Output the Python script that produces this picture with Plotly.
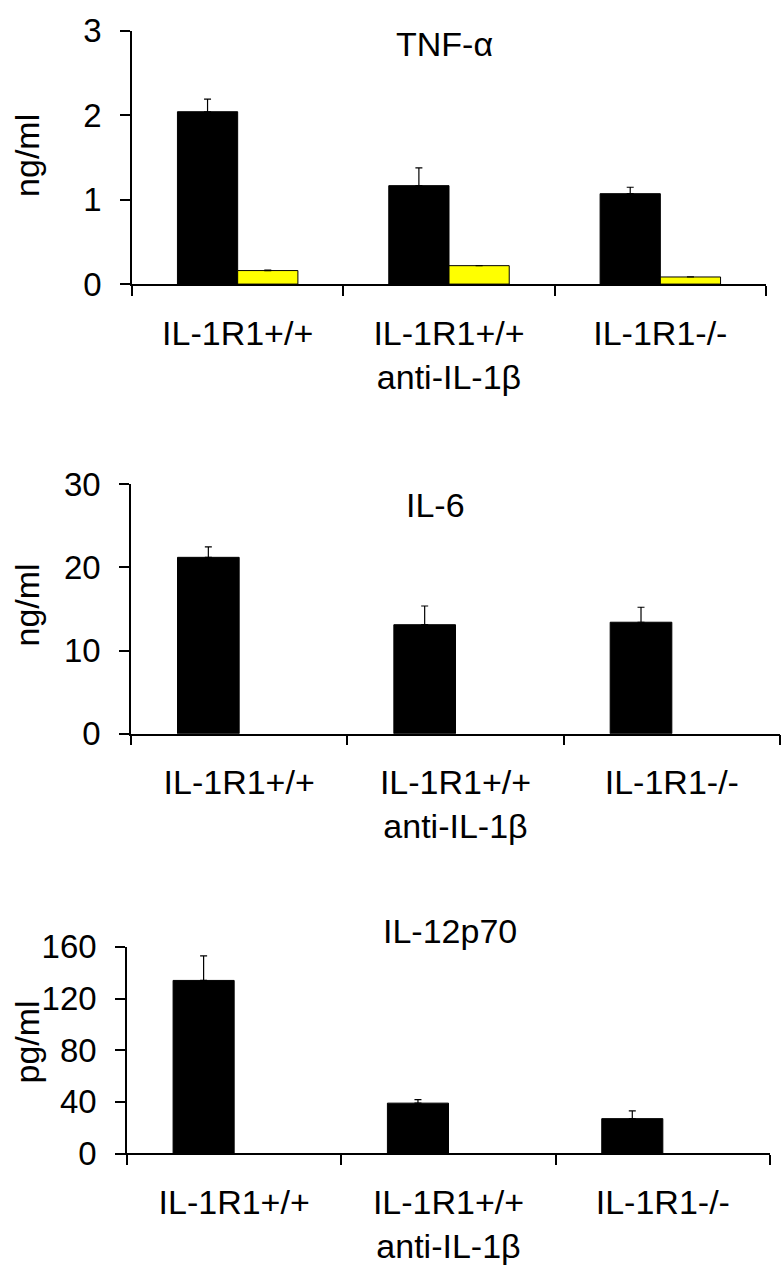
import plotly.graph_objects as go

categories = ["IL-1R1+/+", "IL-1R1+/+<br>anti-IL-1β", "IL-1R1-/-"]

tnf_black = [2.04, 1.165, 1.07]
tnf_black_err = [0.15, 0.21, 0.076]
tnf_yellow = [0.16, 0.218, 0.084]
tnf_yellow_err = [0.005, 0.002, 0.002]

il6_black = [21.2, 13.1, 13.4]
il6_black_err = [1.25, 2.25, 1.8]

il12_black = [134, 39, 27]
il12_black_err = [19, 2.7, 6]

titles = ["TNF-α", "IL-6", "IL-12p70"]
ytitles = ["ng/ml", "ng/ml", "pg/ml"]
yticks = [[0, 1, 2, 3], [0, 10, 20, 30], [0, 40, 80, 120, 160]]
yranges = [[0, 3], [0, 30], [0, 160]]

W, H = 783, 1280
FONT = "Liberation Sans, Arial, sans-serif"

# panel geometry in pixels: (x0, x1, ytop, ybottom)
panels = [(132, 766, 13, 274), (131, 780, 480, 737), (127, 770, 956.5, 1169.3)]

fig = go.Figure()

def err(arr):
    return dict(type="data", array=arr, arrayminus=[0] * len(arr), symmetric=False,
                color="black", thickness=1.2, width=3.5)

series = [
    [(tnf_black, tnf_black_err, "black"), (tnf_yellow, tnf_yellow_err, "#FFFF00")],
    [(il6_black, il6_black_err, "black")],
    [(il12_black, il12_black_err, "black")],
]

for i, sl in enumerate(series):
    xa = "x" if i == 0 else f"x{i+1}"
    ya = "y" if i == 0 else f"y{i+1}"
    for j, (vals, e, col) in enumerate(sl):
        fig.add_trace(go.Bar(
            x=categories, y=vals, xaxis=xa, yaxis=ya,
            marker=dict(color=col, line=dict(color="black", width=1)),
            width=0.285, offset=-0.285 if j == 0 else 0.0,
            error_y=err(e), showlegend=False,
        ))

annotations = []
for i, (x0, x1, yt, yb) in enumerate(panels):
    key = "" if i == 0 else str(i + 1)
    xd = [x0 / W, x1 / W]
    yd = [1 - yb / H, 1 - yt / H]
    fig.layout["xaxis" + key] = dict(
        domain=xd, anchor="y" + key, type="category", range=[-0.5, 2.5],
        showline=True, linecolor="black", linewidth=1.5,
        ticks="outside", tickson="boundaries", ticklen=10, tickwidth=1.5, tickcolor="black",
        ticklabelstandoff=18,
        tickfont=dict(family=FONT, size=34, color="black"), showgrid=False, zeroline=False,
        fixedrange=True,
    )
    fig.layout["yaxis" + key] = dict(
        domain=yd, anchor="x" + key, range=yranges[i], tickvals=yticks[i],
        showline=True, linecolor="black", linewidth=1.5,
        ticks="outside", ticklen=10, tickwidth=1.5, tickcolor="black",
        ticklabelstandoff=12,
        tickfont=dict(family=FONT, size=33, color="black"), showgrid=False, zeroline=False,
    )

title_pos = [(444, 27), (436, 502), (450, 940)]
for i, (tx, ty) in enumerate(title_pos):
    annotations.append(dict(text=titles[i], x=tx / W, y=1 - ty / H, xref="paper", yref="paper",
                            showarrow=False, xanchor="center", yanchor="middle",
                            font=dict(family=FONT, size=34, color="black")))
ytpos = [(27, 142), (27, 605), (27, 1055)]
for i, (tx, ty) in enumerate(ytpos):
    annotations.append(dict(text=ytitles[i], x=tx / W, y=1 - ty / H, xref="paper", yref="paper",
                            showarrow=False, xanchor="center", yanchor="middle", textangle=-90,
                            font=dict(family=FONT, size=34, color="black")))

fig.update_layout(
    width=W, height=H, margin=dict(l=0, r=0, t=0, b=0),
    paper_bgcolor="white", plot_bgcolor="white",
    annotations=annotations, barmode="overlay",
)

fig.write_html("out.html", config={"displayModeBar": False},
               post_script="document.body.style.margin='0';")
